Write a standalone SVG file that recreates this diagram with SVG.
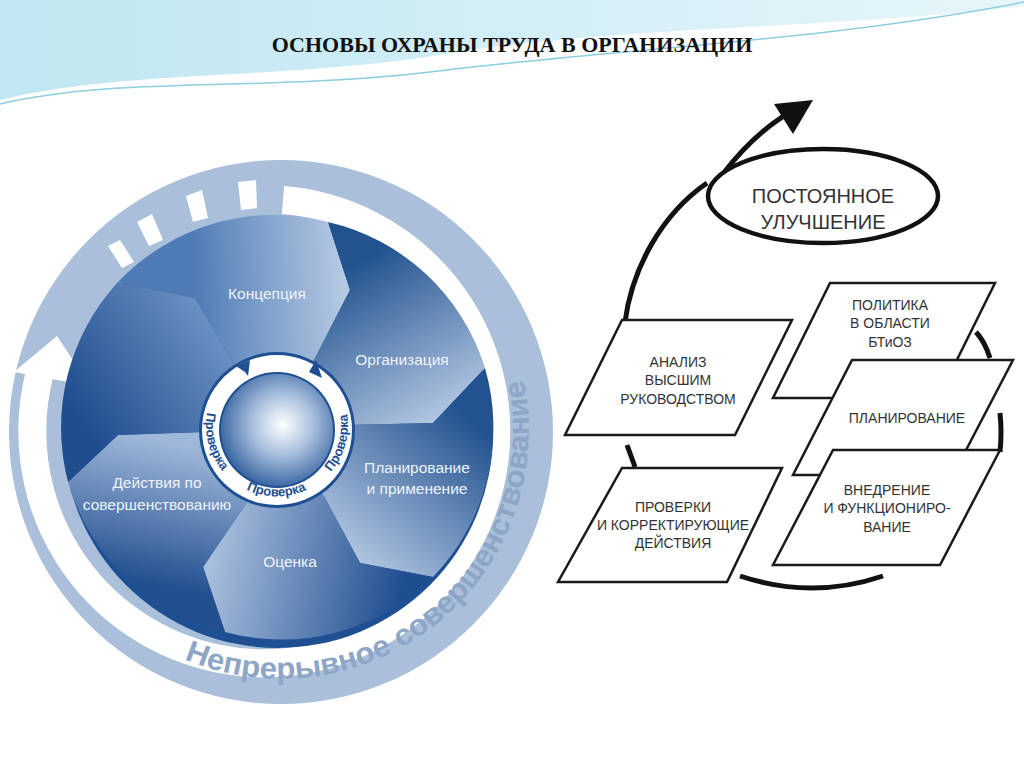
<svg xmlns="http://www.w3.org/2000/svg" width="1024" height="767" viewBox="0 0 1024 767">
<defs>
<style>
.lbl{font-family:"Liberation Sans",Arial,sans-serif;font-size:15.5px;fill:#eef3fa;text-anchor:middle}
.box{fill:#fff;stroke:#1a1a1a;stroke-width:2.5}
.bt{font-family:"Liberation Sans",Arial,sans-serif;font-size:14px;fill:#333;text-anchor:middle}
.big{font-family:"Liberation Sans",Arial,sans-serif;font-size:20px;fill:#333;text-anchor:middle}
.arc{fill:none;stroke:#111;stroke-width:5}
.pv{font-family:"Liberation Sans",Arial,sans-serif;font-size:13px;font-weight:bold;fill:#1f4f93}
</style>
<linearGradient id="sky" x1="0" y1="0" x2="1" y2="0"><stop offset="0" stop-color="#bfe6f1"/><stop offset="1" stop-color="#e6f6fa"/></linearGradient>
<linearGradient id="g1" gradientUnits="userSpaceOnUse" x1="195" y1="298" x2="350" y2="290"><stop offset="0" stop-color="#4f7cb6"/><stop offset="1" stop-color="#b9cce4"/></linearGradient>
<linearGradient id="g2" gradientUnits="userSpaceOnUse" x1="345" y1="270" x2="433" y2="423"><stop offset="0" stop-color="#22538f"/><stop offset="1" stop-color="#b3c7e2"/></linearGradient>
<linearGradient id="g3" gradientUnits="userSpaceOnUse" x1="460" y1="410" x2="345" y2="545"><stop offset="0" stop-color="#22528f"/><stop offset="1" stop-color="#adc2df"/></linearGradient>
<linearGradient id="g4" gradientUnits="userSpaceOnUse" x1="400" y1="600" x2="210" y2="560"><stop offset="0" stop-color="#1f4e90"/><stop offset="1" stop-color="#a9bfdd"/></linearGradient>
<linearGradient id="g5" gradientUnits="userSpaceOnUse" x1="130" y1="580" x2="160" y2="440"><stop offset="0" stop-color="#224f8f"/><stop offset="1" stop-color="#9fb8da"/></linearGradient>
<linearGradient id="g6" gradientUnits="userSpaceOnUse" x1="80" y1="420" x2="215" y2="330"><stop offset="0" stop-color="#1f4d8e"/><stop offset="1" stop-color="#6a90c2"/></linearGradient>
<radialGradient id="sph" cx="0.55" cy="0.45" r="0.6"><stop offset="0" stop-color="#ffffff"/><stop offset="0.45" stop-color="#a9c0de"/><stop offset="1" stop-color="#2e5c9b"/></radialGradient>
<path id="pv" d="M 209 405 A 71 71 0 1 0 345 405"/>
<path id="nc" d="M 184 659 A 248 248 0 0 0 514 346"/>
</defs>
<rect width="1024" height="767" fill="#fff"/>
<path d="M0 0 H1024 V6 C820 30 620 25 440 55 C280 80 120 70 0 100 Z" fill="url(#sky)"/>
<path d="M0 104 C120 76 260 92 430 72 C620 48 820 42 1024 2" fill="none" stroke="#8ccde0" stroke-width="1.5"/>
<text x="512" y="52" text-anchor="middle" font-family="'Liberation Serif',serif" font-weight="bold" font-size="22" fill="#111">ОСНОВЫ ОХРАНЫ ТРУДА В ОРГАНИЗАЦИИ</text>

<g id="wheel">
<circle cx="281" cy="432" r="272" fill="#a9bfda"/>
<path d="M 283 200 A 232 232 0 1 1 40 372" fill="none" stroke="#fff" stroke-width="28"/>
<polygon points="57,336 14,372 90,386" fill="#fff"/>
<g fill="#fff">
<polygon points="108,246 120,240 134,262 122,268"/>
<polygon points="137,222 152,214 163,240 149,246"/>
<polygon points="186,196 202,190 208,218 193,222"/>
<polygon points="238,182 256,180 257,208 241,210"/>
</g>
<circle cx="278" cy="433" r="215" fill="#1f4f93"/>
<path d="M277 430 L235 365 L195 298 L118 282 A215 215 0 0 1 328 222 L350 290 L313 362 Z" fill="url(#g1)"/>
<path d="M277 430 L313 362 L350 290 L328 222 A215 215 0 0 1 485 368 L433 423 L348 425 Z" fill="url(#g2)"/>
<path d="M277 430 L348 425 L433 423 L485 368 A215 215 0 0 1 433 577 L360 563 L325 498 Z" fill="url(#g3)"/>
<path d="M277 430 L325 498 L360 563 L433 577 A215 215 0 0 1 225 632 L203 567 L252 495 Z" fill="url(#g4)"/>
<path d="M277 430 L252 495 L203 567 L225 632 A215 215 0 0 1 68 482 L118 435 L203 432 Z" fill="url(#g5)"/>
<path d="M277 430 L203 432 L118 435 L68 482 A215 215 0 0 1 118 282 L195 298 L235 365 Z" fill="url(#g6)"/>
<text class="lbl" x="267" y="299">Концепция</text>
<text class="lbl" x="402" y="365">Организация</text>
<text class="lbl" x="417" y="473">Планирование</text>
<text class="lbl" x="417" y="494">и применение</text>
<text class="lbl" x="290" y="567">Оценка</text>
<text class="lbl" x="157" y="488">Действия по</text>
<text class="lbl" x="157" y="510">совершенствованию</text>
<circle cx="277" cy="430" r="78" fill="#1f4f93"/>
<circle cx="277" cy="430" r="75" fill="#fff"/>
<circle cx="277" cy="430" r="58" fill="#1f4f93"/>
<circle cx="277" cy="430" r="56" fill="url(#sph)"/>
<text class="pv"><textPath href="#pv" startOffset="3%">Проверка</textPath></text>
<text class="pv"><textPath href="#pv" startOffset="38%">Проверка</textPath></text>
<text class="pv"><textPath href="#pv" startOffset="73%">Проверка</textPath></text>
<polygon points="245,372 236,366 250,360 248,376" fill="#1f4f93"/>
<polygon points="309,372 316,360 322,378" fill="#1f4f93"/>
<text font-family="'Liberation Sans',Arial,sans-serif" font-size="30" font-weight="bold" fill="#8ea6c6" textLength="540" lengthAdjust="spacingAndGlyphs"><textPath href="#nc">Непрерывное совершенствование</textPath></text>
</g>

<g id="connectors">
<path class="arc" d="M 625 322 C 632 268 662 214 707 183"/>
<path class="arc" d="M 722 175 C 745 145 770 122 798 108"/>
<polygon points="813,100 774,104 793,134" fill="#111"/>
<path class="arc" d="M 976 332 Q 985 342 990 358"/>
<path class="arc" d="M 1000 413 Q 1002 432 1000 452"/>
<path class="arc" d="M 740 576 Q 812 600 883 576"/>
<path class="arc" d="M 627 445 L 635 467"/>
</g>
<g id="improve">
<ellipse cx="823" cy="196" rx="115" ry="47" fill="#fff" stroke="#111" stroke-width="4.5"/>
<text class="big" x="823" y="203">ПОСТОЯННОЕ</text>
<text class="big" x="823" y="229">УЛУЧШЕНИЕ</text>
</g>
<g id="analysis">
<polygon class="box" points="622,320 792,320 735,435 565,435"/>
<text class="bt" x="678" y="367">АНАЛИЗ</text><text class="bt" x="678" y="385">ВЫСШИМ</text><text class="bt" x="678" y="404">РУКОВОДСТВОМ</text>
</g>
<g id="policy">
<polygon class="box" points="830,283 995,283 938,398 773,398"/>
<text class="bt" x="890" y="310">ПОЛИТИКА</text><text class="bt" x="890" y="328">В ОБЛАСТИ</text><text class="bt" x="890" y="347">БТиОЗ</text>
</g>
<g id="planning">
<polygon class="box" points="852,360 1013,360 953,475 793,475"/>
<text class="bt" x="907" y="423">ПЛАНИРОВАНИЕ</text>
</g>
<g id="implement">
<polygon class="box" points="833,450 1000,450 940,565 773,565"/>
<text class="bt" x="887" y="495">ВНЕДРЕНИЕ</text><text class="bt" x="887" y="513">И ФУНКЦИОНИРО-</text><text class="bt" x="887" y="532">ВАНИЕ</text>
</g>
<g id="checks">
<polygon class="box" points="622,468 782,468 727,582 558,582"/>
<text class="bt" x="673" y="512">ПРОВЕРКИ</text><text class="bt" x="673" y="530">И КОРРЕКТИРУЮЩИЕ</text><text class="bt" x="673" y="548">ДЕЙСТВИЯ</text>
</g>
</svg>
